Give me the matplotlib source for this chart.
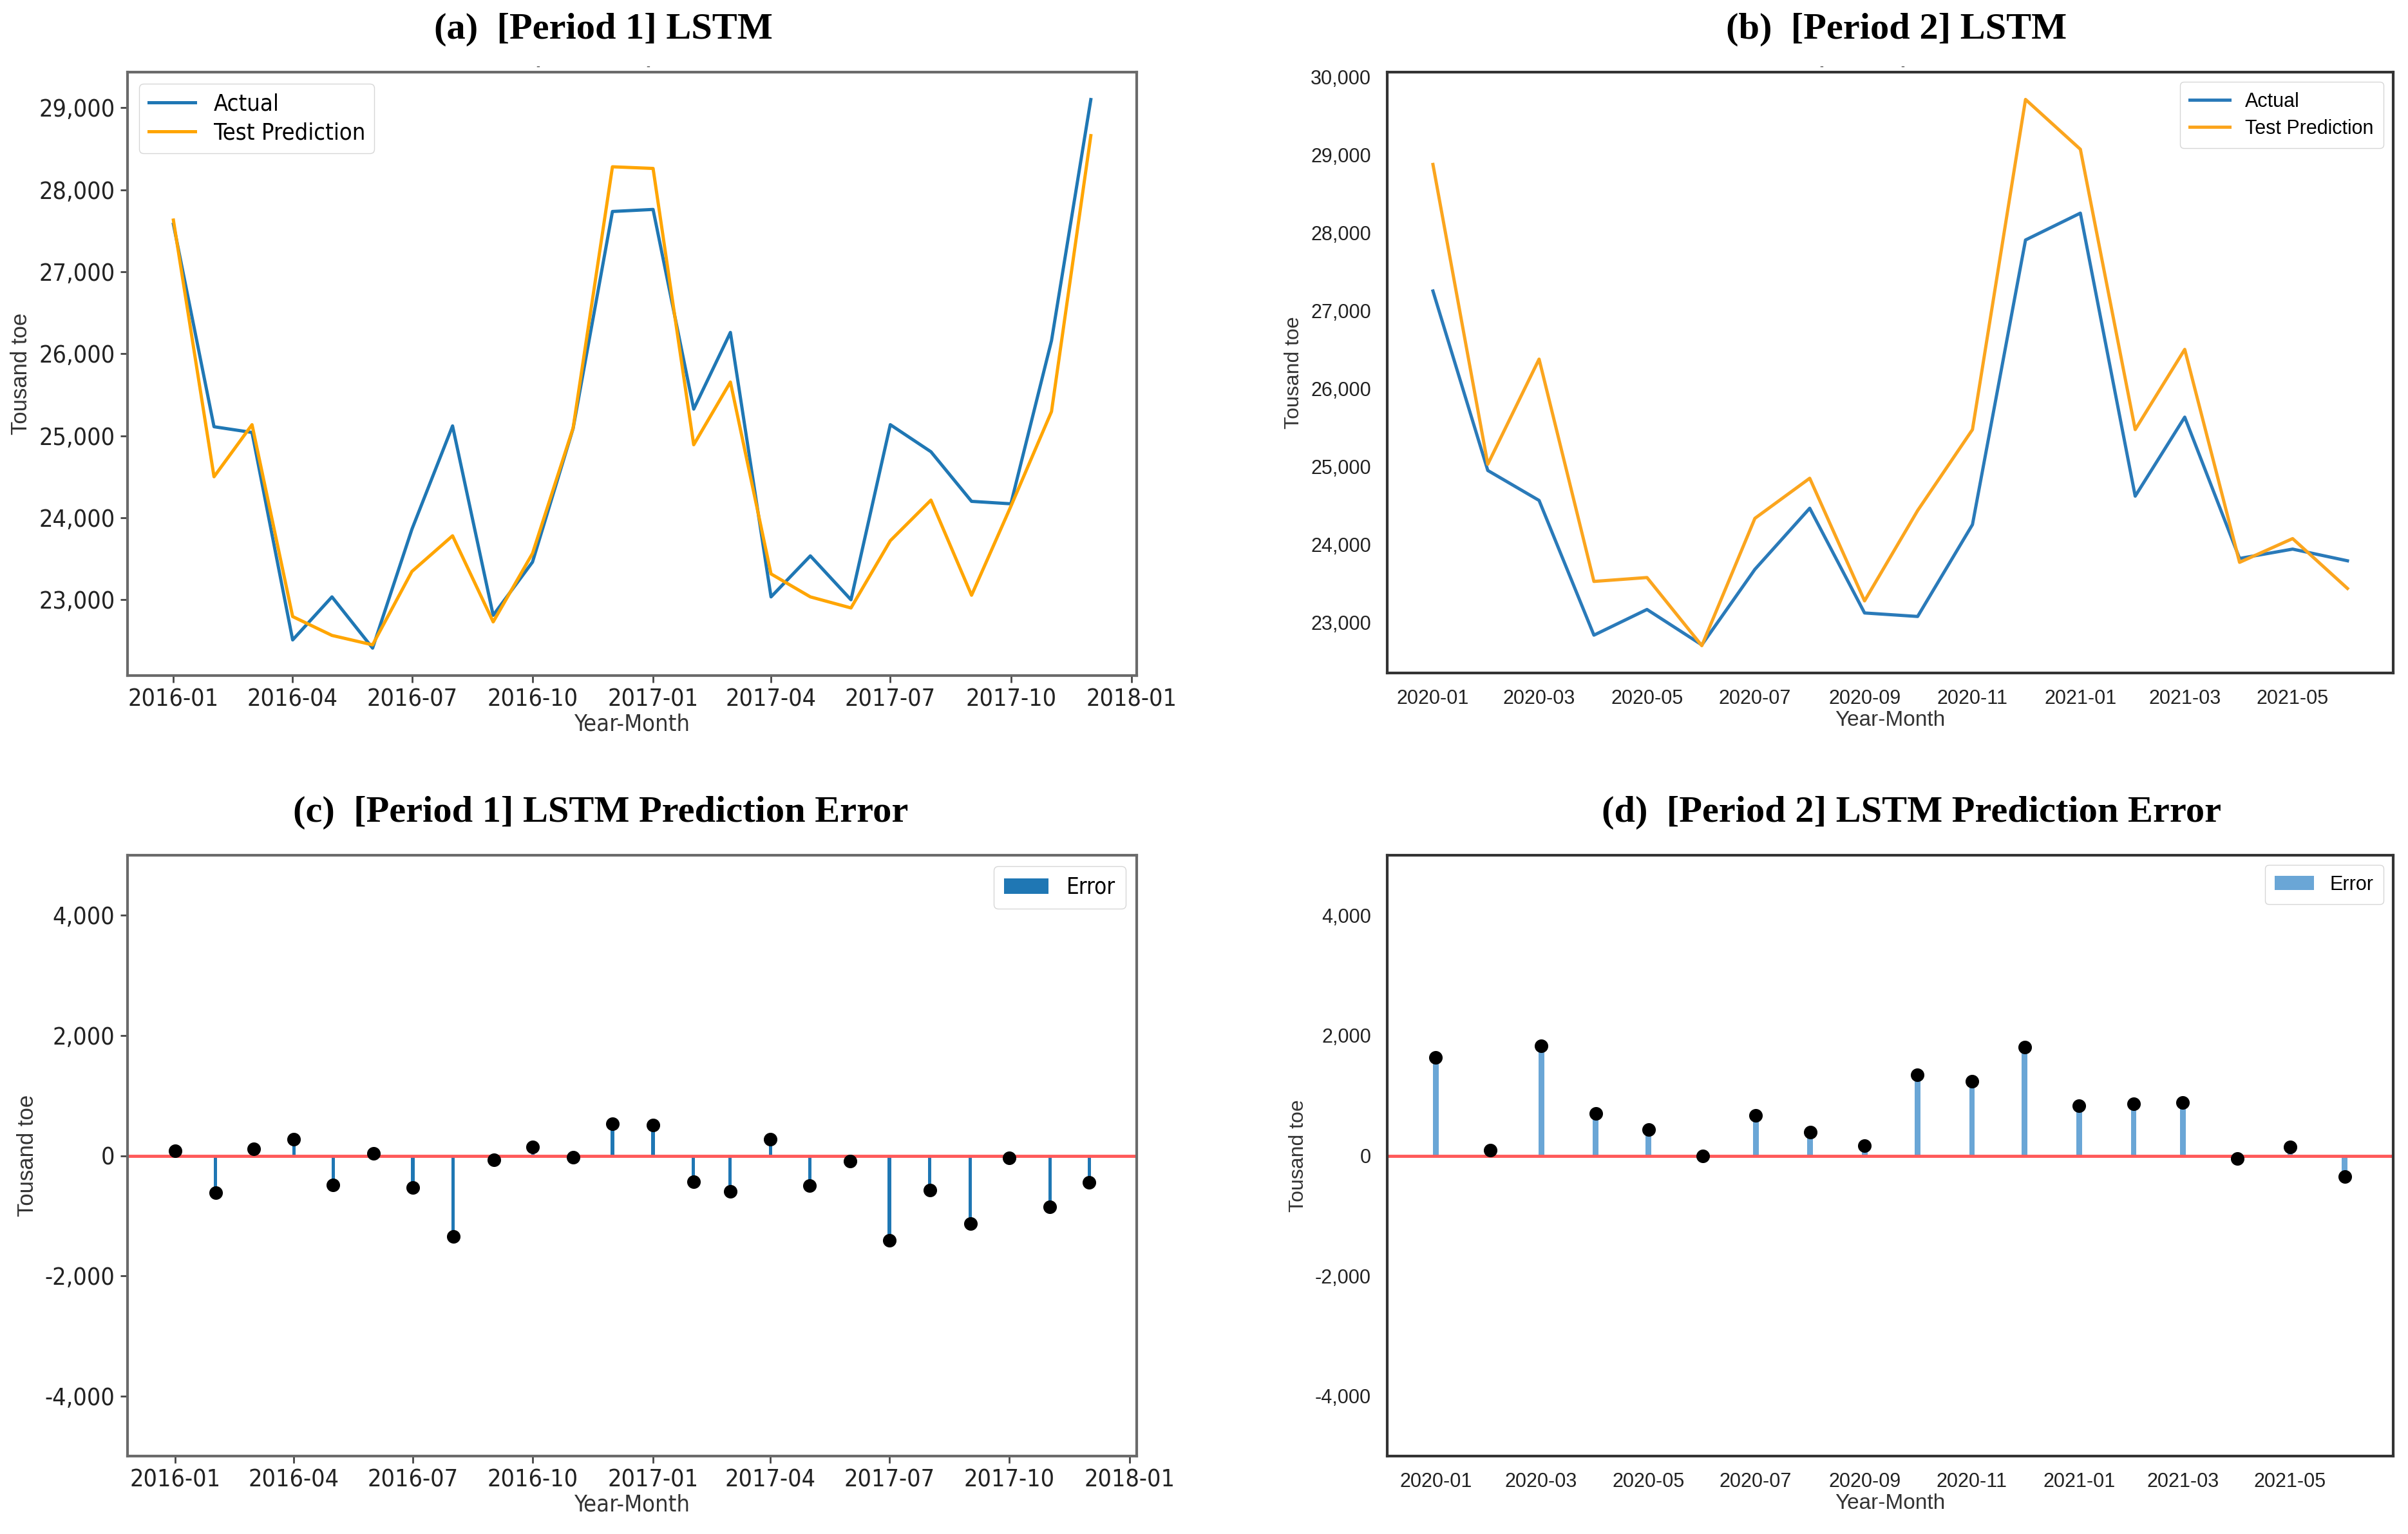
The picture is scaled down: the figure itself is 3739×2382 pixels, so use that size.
import matplotlib
matplotlib.use("Agg")
import matplotlib.pyplot as plt
import matplotlib.dates as mdates
import matplotlib.ticker as mticker
from matplotlib.font_manager import FontProperties
import pandas as pd

# ---------------- data ----------------
months_p1 = pd.date_range("2016-01-01", "2017-12-01", freq="MS")
actual_p1 = [27580, 25110, 25040, 22510, 23035, 22410, 23860, 25120, 22810, 23460, 25090, 27735,
             27760, 25325, 26260, 23035, 23535, 23000, 25135, 24805, 24200, 24170, 26160, 29100]
pred_p1 = [27630, 24500, 25135, 22795, 22565, 22450, 23345, 23780, 22730, 23565, 25095, 28280,
           28260, 24890, 25655, 23315, 23035, 22900, 23720, 24215, 23055, 24140, 25295, 28660]
error_p1 = [80, -620, 115, 275, -490, 35, -535, -1350, -65, 140, -25, 530,
            505, -430, -600, 275, -495, -90, -1405, -575, -1130, -40, -855, -440]

months_p2 = pd.date_range("2020-01-01", "2021-06-01", freq="MS")
actual_p2 = [27255, 24950, 24565, 22835, 23165, 22710, 23680, 24465, 23120, 23075, 24255, 27910,
             28255, 24620, 25635, 23820, 23940, 23790]
pred_p2 = [28880, 25030, 26380, 23525, 23575, 22700, 24335, 24850, 23275, 24435, 25475, 29715,
           29075, 25475, 26505, 23770, 24075, 23435]
error_p2 = [1630, 95, 1825, 705, 435, -10, 665, 395, 165, 1350, 1240, 1810,
            835, 860, 885, -50, 140, -350]

titles = ["(a)  [Period 1] LSTM", "(b)  [Period 2] LSTM",
          "(c)  [Period 1] LSTM Prediction Error", "(d)  [Period 2] LSTM Prediction Error"]

W, H = 3739, 2382
fig = plt.figure(figsize=(W / 100, H / 100), dpi=100)

def add_ax(l, t, r, b):
    return fig.add_axes([l / W, 1 - b / H, (r - l) / W, (b - t) / H])

ax_a = add_ax(198, 112, 1765, 1049)
ax_b = add_ax(2154, 112, 3716, 1045)
ax_c = add_ax(198, 1328, 1765, 2261)
ax_d = add_ax(2154, 1328, 3716, 2261)

comma = mticker.FuncFormatter(lambda v, p: f"{int(v):,}")

def lfont(size):
    return FontProperties(family="DejaVu Sans", stretch="condensed", size=size)

def rfont(size):
    return FontProperties(family=["Liberation Sans", "DejaVu Sans"], size=size)

def style(ax, left_style, bymonth):
    for s in ax.spines.values():
        s.set_color("#6a6a6a" if left_style else "#333333")
        s.set_linewidth(3.0)
    ax.xaxis.set_major_locator(mdates.MonthLocator(bymonth=bymonth))
    ax.xaxis.set_major_formatter(mdates.DateFormatter("%Y-%m"))
    ax.yaxis.set_major_formatter(comma)
    if left_style:
        ax.tick_params(axis="both", length=8, width=2, color="#444444", pad=6)
        tf = lfont(27)
        xl = lfont(26)
        yl = FontProperties(family=["Liberation Sans", "DejaVu Sans"], size=25)
    else:
        ax.tick_params(axis="both", length=0, pad=18)
        tf = rfont(22)
        xl = rfont(24)
        yl = rfont(23)
    for lab in ax.get_xticklabels() + ax.get_yticklabels():
        lab.set_fontproperties(tf)
        lab.set_color("#222222")
    ax.set_xlabel("Year-Month", fontproperties=xl, color="#333333", labelpad=2)
    ax.set_ylabel("Tousand toe", fontproperties=yl, color="#333333", labelpad=8)

# (a)
ax_a.plot(months_p1, actual_p1, color="#1f77b4", lw=3.6, label="Actual")
ax_a.plot(months_p1, pred_p1, color="orange", lw=3.6, label="Test Prediction")
ax_a.set_yticks([23000, 24000, 25000, 26000, 27000, 28000, 29000])
style(ax_a, True, [1, 4, 7, 10])
ax_a.legend(loc="upper left", prop=lfont(26), handlelength=2.0,
            borderpad=0.4, labelspacing=0.3)

# (b)
ax_b.plot(months_p2, actual_p2, color="#2a7ab9", lw=3.6, label="Actual")
ax_b.plot(months_p2, pred_p2, color="#fba51e", lw=3.6, label="Test Prediction")
ax_b.set_yticks([23000, 24000, 25000, 26000, 27000, 28000, 29000, 30000])
style(ax_b, False, [1, 3, 5, 7, 9, 11])
ax_b.legend(loc="upper right", prop=rfont(22), handlelength=2.0,
            borderpad=0.5, labelspacing=0.4)

# (c)
ax_c.bar(months_p1, error_p1, width=2.6, color="#1f77b4", label="Error", zorder=2)
ax_c.scatter(months_p1, error_p1, s=200, color="black", zorder=3)
ax_c.axhline(0, color="#ff5a5a", lw=3.5, zorder=2.5)
ax_c.set_ylim(-5000, 5000)
ax_c.set_yticks([-4000, -2000, 0, 2000, 4000])
style(ax_c, True, [1, 4, 7, 10])
ax_c.legend(loc="upper right", prop=lfont(25), handlelength=2.0, borderpad=0.45)

# (d)
ax_d.bar(months_p2, error_p2, width=3.2, color="#6aa6d6", label="Error", zorder=2)
ax_d.scatter(months_p2, error_p2, s=200, color="black", zorder=3)
ax_d.axhline(0, color="#ff5a5a", lw=3.5, zorder=2.5)
ax_d.set_ylim(-5000, 5000)
ax_d.set_yticks([-4000, -2000, 0, 2000, 4000])
style(ax_d, False, [1, 3, 5, 7, 9, 11])
ax_d.legend(loc="upper right", prop=rfont(22), handlelength=2.0, borderpad=0.5)

# titles
title_font = ["Liberation Serif", "DejaVu Serif"]
for (x, y), t in zip([(937, 46), (2945, 46), (933, 1262), (2968, 1262)], titles):
    fig.text(x / W, 1 - y / H, t, ha="center", va="center", fontsize=42,
             fontweight="bold", family=title_font)

# small stray dash marks under the top titles
for x in (835, 1006, 2828, 2954):
    fig.text(x / W, 1 - 103 / H, "-", ha="center", va="center", fontsize=12, color="#555555")

fig.savefig("out.png", dpi=100, facecolor="white")
